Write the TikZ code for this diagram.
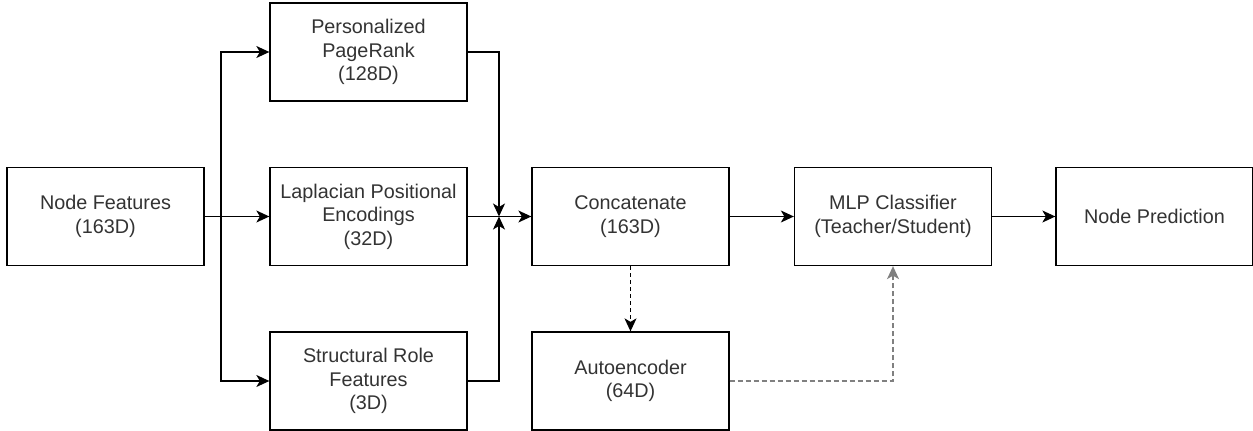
\documentclass[tikz,border=0pt]{standalone}
\usepackage{fontspec}
\setmainfont{Liberation Sans}
\usepackage{tikz}
\usetikzlibrary{arrows.meta}
\usepackage{xcolor}

\begin{document}
\begin{tikzpicture}[x=1pt,y=-1pt,>={Stealth[length=13pt,width=12pt,inset=3.5pt]},
  line width=1.3pt,
  font=\fontsize{19.8}{23.5}\selectfont,
  box/.style={draw,align=center,text=black!80,minimum width=197pt,minimum height=98pt,inner sep=0pt}]
\useasboundingbox (0,0) rectangle (1253,431);
\node[box] (feat) at (105.5,216.5) {Node Features\\(163D)};
\node[box] (ppr) at (368.5,52) {Personalized\\PageRank\\(128D)};
\node[box] (lap) at (368.5,216.5) {Laplacian Positional\\Encodings\\(32D)};
\node[box] (srf) at (368.5,381) {Structural Role\\Features\\(3D)};
\node[box] (cat) at (630.5,216.5) {Concatenate\\(163D)};
\node[box] (ae) at (630.5,381) {Autoencoder\\(64D)};
\node[box] (mlp) at (893,216.5) {MLP Classifier\\(Teacher/Student)};
\node[box] (pred) at (1154.5,216.5) {Node Prediction};
\coordinate (split) at (221,216.5);
\coordinate (join) at (499,216.5);
\draw[->] (feat.east) -- (lap.west);
\draw[->] (split) |- (ppr.west);
\draw[->] (split) |- (srf.west);
\draw[->] (lap.east) -- (cat.west);
\draw[->] (ppr.east) -| (join);
\draw[->] (srf.east) -| (join);
\draw[->] (cat.east) -- (mlp.west);
\draw[->] (mlp.east) -- (pred.west);
\draw[->,dash pattern=on 4pt off 3pt] (cat.south) -- (ae.north);
\draw[->,gray,dash pattern=on 5pt off 3pt] (ae.east) -| (mlp.south);
\end{tikzpicture}
\end{document}
